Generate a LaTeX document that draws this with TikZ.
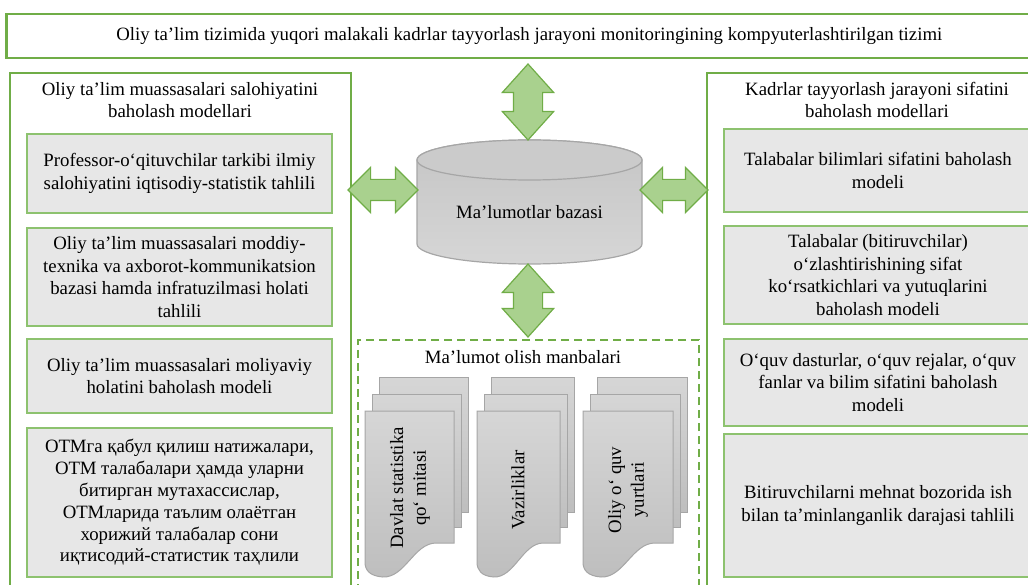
\documentclass[tikz,border=0pt]{standalone}
\usepackage{fontspec}
\setmainfont{Liberation Serif}
\usetikzlibrary{shapes.arrows}
\definecolor{frame}{HTML}{70AD47}
\definecolor{boxline}{HTML}{8DC26F}
\definecolor{boxfill}{HTML}{E7E7E7}
\definecolor{arrowfill}{HTML}{A9D18E}
\definecolor{greyline}{HTML}{A6A6A6}
\definecolor{greytop}{HTML}{D6D6D6}
\definecolor{greybot}{HTML}{BEBEBE}
\tikzset{
  % one unit = one pixel of the layout, y pointing down
  panel/.style={draw=frame, line width=2pt, minimum width=#1, anchor=north west, inner sep=0pt},
  txt/.style={align=center, inner sep=0pt, font=\fontsize{18.8}{22.8}\selectfont},
  model/.style={draw=boxline, line width=1.3pt, fill=boxfill, minimum width=#1, txt},
  % body thickness comes from inner ysep (empty text)
  flow/.style={double arrow, draw=frame, fill=arrowfill, line width=1.2pt, inner xsep=0pt,
    inner ysep=14pt, double arrow head extend=11pt, double arrow tip angle=84},
  sideflow/.style={flow, inner ysep=10pt, double arrow head extend=12pt, double arrow tip angle=90},
  sheet/.style={draw=greyline, line width=1pt, top color=greytop, bottom color=greybot}
}

\begin{document}
\begin{tikzpicture}[x=1pt, y=-1pt]
\useasboundingbox (0,0) rectangle (1028,585);
\fill[white] (0,0) rectangle (1028,585);

% Frames
\node[panel=1046pt, line width=2.5pt, minimum height=44pt, txt] (system) at (5,13)
  {Oliy taʼlim tizimida yuqori malakali kadrlar tayyorlash jarayoni monitoringining kompyuterlashtirilgan tizimi};
\node[panel=341pt, minimum height=540pt] (potential) at (9,72) {};
\node[panel=344pt, minimum height=540pt] (quality) at (706,72) {};
\node[panel=341pt, minimum height=270pt, dashed, dash pattern=on 8pt off 5pt] (sources) at (357,339) {};

\node[txt] (potentialtitle) at (180,100) {Oliy taʼlim muassasalari salohiyatini\\baholash modellari};
\node[txt] (qualitytitle) at (877,100) {Kadrlar tayyorlash jarayoni sifatini\\baholash modellari};
\node[txt] (sourcestitle) at (523,357) {Maʼlumot olish manbalari};

% Left models
\node[model=305pt, minimum height=79pt] (staff) at (179.5,173.5)
  {Professor-oʻqituvchilar tarkibi ilmiy\\salohiyatini iqtisodiy-statistik tahlili};
\node[model=305pt, minimum height=98pt] (infra) at (179.5,277)
  {Oliy taʼlim muassasalari moddiy-\\texnika va axborot-kommunikatsion\\bazasi hamda infratuzilmasi holati\\tahlili};
\node[model=305pt, minimum height=74pt] (finance) at (179.5,376)
  {Oliy taʼlim muassasalari moliyaviy\\holatini baholash modeli};
\node[model=305pt, minimum height=149pt, font=\fontsize{18.8}{21.8}\selectfont] (admission) at (179.5,502.5)
  {ОТМга қабул қилиш натижалари,\\ОТМ талабалари ҳамда уларни\\битирган мутахассислар,\\ОТМларида таълим олаётган\\хорижий талабалар сони\\иқтисодий-статистик таҳлили};

% Right models
\node[model=308pt, minimum height=83pt] (knowledge) at (878,170.5)
  {Talabalar bilimlari sifatini baholash\\modeli};
\node[model=308pt, minimum height=98pt] (graduates) at (878,275)
  {Talabalar (bitiruvchilar)\\oʻzlashtirishining sifat\\koʻrsatkichlari va yutuqlarini\\baholash modeli};
\node[model=308pt, minimum height=87pt] (curricula) at (878,382.5)
  {Oʻquv dasturlar, oʻquv rejalar, oʻquv\\fanlar va bilim sifatini baholash\\modeli};
\node[model=308pt, minimum height=143pt] (employment) at (878,505.5)
  {Bitiruvchilarni mehnat bozorida ish\\bilan taʼminlanganlik darajasi tahlili};

% Database cylinder
\def\dbL{417} \def\dbR{642} \def\dbT{160} \def\dbB{244}
\draw[greyline, line width=1.2pt, top color=greytop!92!black, bottom color=greytop]
  (\dbL,\dbT) -- (\dbL,\dbB) arc[start angle=180, end angle=0, x radius=112.5, y radius=20]
  -- (\dbR,\dbT) arc[start angle=0, end angle=-180, x radius=112.5, y radius=20] -- cycle;
\draw[greyline, line width=1.2pt, fill=greytop!95!black] (529.5,\dbT) ellipse[x radius=112.5, y radius=20];
\node[txt] (db) at (529.5,212) {Maʼlumotlar bazasi};

% Double arrows
\node[flow, minimum height=76pt, rotate=90] (uplink) at (528,102) {};
\node[flow, minimum height=73pt, rotate=90] (downlink) at (528,300.5) {};
\node[sideflow, minimum height=70pt] (leftlink) at (383,190) {};
\node[sideflow, minimum height=68pt] (rightlink) at (674,190) {};

% Document stacks
\foreach \x/\w in {365/89, 477/83, 583/90} {
  \draw[sheet] (\x+14,377) rectangle (\x+14+\w,512);
  \draw[sheet] (\x+7,394) rectangle (\x+7+\w,527);
  \draw[sheet] (\x,411) -- (\x+\w,411) -- (\x+\w,543) -- (\x+0.8*\w,543)
    .. controls (\x+0.55*\w,543) and (\x+0.45*\w,578) .. (\x+0.2*\w,577)
    .. controls (\x+0.05*\w,576) and (\x,570) .. (\x,562) -- cycle;
}
\node[txt, rotate=90] (committee) at (410,488) {Davlat statistika\\qoʻ mitasi};
\node[txt, rotate=90] (ministries) at (518,490) {Vazirliklar};
\node[txt, rotate=90] (universities) at (628,490) {Oliy oʻ quv\\yurtlari};

\end{tikzpicture}
\end{document}
